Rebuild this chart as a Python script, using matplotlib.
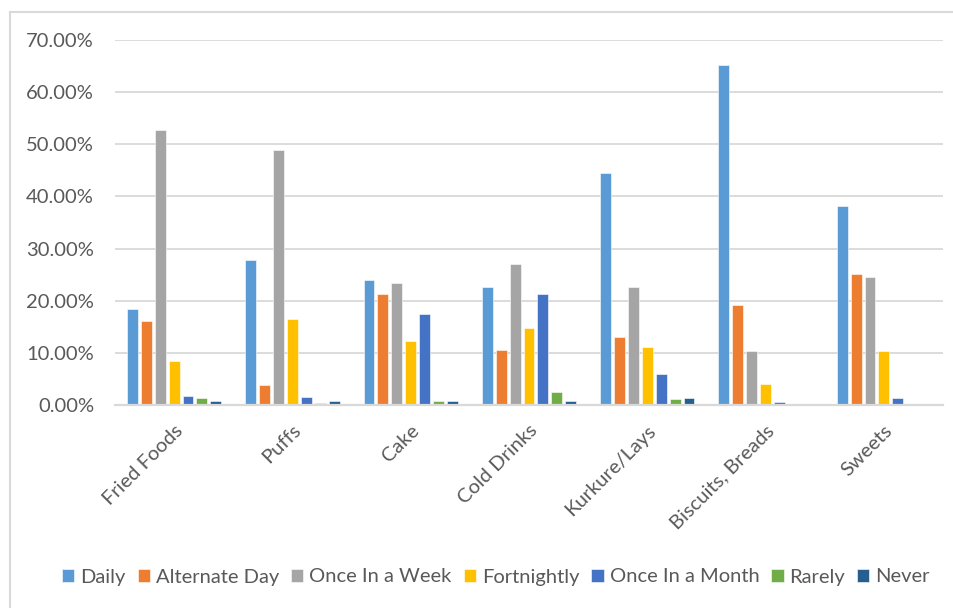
import matplotlib
matplotlib.use("Agg")
import matplotlib.pyplot as plt
from matplotlib.lines import Line2D
import numpy as np

plt.rcParams['font.family'] = ['Lato', 'DejaVu Sans']

categories = ["Fried Foods", "Puffs", "Cake", "Cold Drinks", "Kurkure/Lays",
              "Biscuits, Breads", "Sweets"]

series_names = ["Daily", "Alternate Day", "Once In a Week", "Fortnightly",
                "Once In a Month", "Rarely", "Never"]

daily = [18.5, 27.8, 23.9, 22.7, 44.4, 65.2, 38.1]
alternate_day = [16.1, 3.8, 21.2, 10.6, 13.1, 19.1, 25.2]
once_in_a_week = [52.7, 49.0, 23.4, 27.1, 22.7, 10.3, 24.6]
fortnightly = [8.4, 16.4, 12.3, 14.7, 11.1, 4.0, 10.3]
once_in_a_month = [1.8, 1.6, 17.5, 21.3, 5.9, 0.6, 1.3]
rarely = [1.3, 0.4, 0.7, 2.4, 1.1, 0.2, 0.2]
never = [0.7, 0.7, 0.7, 0.7, 1.3, 0.0, 0.0]

series_values = [daily, alternate_day, once_in_a_week, fortnightly,
                 once_in_a_month, rarely, never]

colors = ["#5B9BD5", "#ED7D31", "#A5A5A5", "#FFC000",
          "#4472C4", "#70AD47", "#255E91"]

y_ticks = [0, 10, 20, 30, 40, 50, 60, 70]

text_color = "#595959"
grid_color = "#D9D9D9"

fig = plt.figure(figsize=(9.54, 6.08), dpi=100)
ax = fig.add_axes([0.1205, 0.3339, 0.868, 0.6003])

x = np.arange(len(categories))
pitch = 0.1175
bar_w = 0.092
for j, (name, vals, col) in enumerate(zip(series_names, series_values, colors)):
    ax.bar(x + (j - 3) * pitch, vals, width=bar_w, color=col, label=name,
           edgecolor="white", linewidth=0.4, zorder=3)

ax.set_xlim(-0.5, len(categories) - 0.5)
ax.set_ylim(0, 70)
ax.set_yticks(y_ticks)
ax.set_yticklabels([f"{v:.2f}%" for v in y_ticks])
ax.yaxis.grid(True, color=grid_color, linewidth=1.3, zorder=0)
ax.set_axisbelow(True)

ax.set_xticks(x)
ax.set_xticklabels(categories, rotation=45, ha="right", rotation_mode="anchor")

for side in ["top", "right", "left"]:
    ax.spines[side].set_visible(False)
ax.spines["bottom"].set_color(grid_color)
ax.spines["bottom"].set_linewidth(1.6)
ax.spines["bottom"].set_zorder(4)

ax.tick_params(axis="both", length=0, colors=text_color, labelsize=14.5)
ax.tick_params(axis="y", pad=15)
ax.tick_params(axis="x", pad=12)

handles, labels = ax.get_legend_handles_labels()
leg = fig.legend(handles, labels, loc="center", bbox_to_anchor=(0.52, 1 - 577 / 608),
                 ncol=7, frameon=False, fontsize=14.5, handlelength=0.6,
                 handleheight=0.6, handletextpad=0.3, columnspacing=0.6,
                 labelcolor=text_color)

# chart frame edges
fig.add_artist(Line2D([10 / 954, 10 / 954], [0, 1 - 12 / 608],
                      transform=fig.transFigure, color=grid_color, linewidth=1.5))
fig.add_artist(Line2D([10 / 954, 1], [1 - 12 / 608, 1 - 12 / 608],
                      transform=fig.transFigure, color=grid_color, linewidth=1.5))

fig.savefig("out.png", dpi=100)
